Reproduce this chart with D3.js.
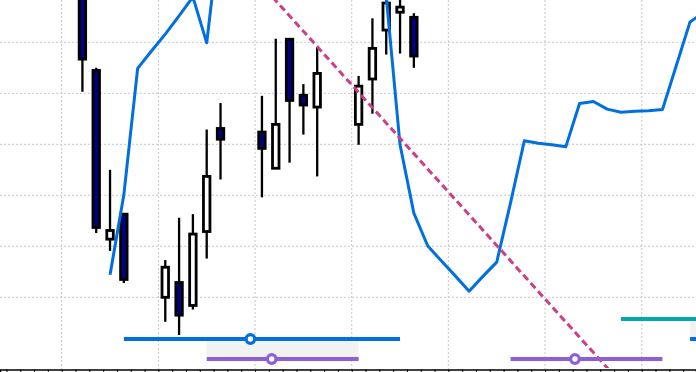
<!DOCTYPE html>
<html>
<head>
<meta charset="utf-8">
<script src="https://cdn.jsdelivr.net/npm/d3@7"></script>
<style>
  html, body { margin: 0; padding: 0; background: #fff; }
  svg { display: block; }
</style>
</head>
<body>
<svg id="chart" width="696" height="372"></svg>
<script>
// daily candles (weekdays only)
var candleDates = ["2024-01-09","2024-01-10","2024-01-11","2024-01-12",
  "2024-01-15","2024-01-16","2024-01-17","2024-01-18","2024-01-19",
  "2024-01-22","2024-01-23","2024-01-24","2024-01-25","2024-01-26",
  "2024-01-29","2024-01-30","2024-01-31","2024-02-01","2024-02-02"];
var opens  = [162.0,144.5,111.4,116.3,100.0,102.9, 98.4,112.9,133.1,132.4,125.3,150.6,139.6,137.3,133.9,142.8,152.4,155.9,154.9];
var highs  = [163.0,145.0,125.0,116.4,107.3,115.6,116.3,132.9,138.1,139.5,150.7,150.6,141.8,149.1,143.4,154.7,159.5,160.0,155.7];
var lows   = [140.3,112.6,109.1,102.8, 95.2, 92.6, 97.6,107.6,123.1,119.6,125.3,126.4,131.9,123.7,129.9,136.0,147.6,147.8,145.0];
var closes = [146.7,113.7,113.1,103.5,105.9, 96.5,112.4,123.7,131.0,129.2,133.9,138.6,137.7,143.9,141.4,148.8,157.7,156.9,147.3];

// daily line, starting 2024-01-11
var lineStart = "2024-01-11";
var lineValues = [104.4,120.1,144.9,148.3,151.6,155.2,158.9,149.9,172.9,177.5,
  180.2,178.8,182.1,184.0,181.3,183.6,185.9,184.7,187.2,186.4,
  159.0,129.9,116.5,110.1,107.1,104.2,101.2,104.1,106.9,118.5,
  130.7,130.2,129.9,129.5,138.0,138.4,136.9,136.3,136.5,136.6,
  136.8,145.4,154.0,155.9];

// dashed trend line anchors
var trendDates = ["2024-01-23T11:00","2024-02-16T11:00"];
var trendValues = [158.3, 86.3];

// range bars in the lower lanes
var lanes = ["teal","blue","purple"];
var segStart  = ["2024-01-12T12:00","2024-01-18T12:00","2024-02-09T12:00","2024-02-17T12:00","2024-02-22T12:00"];
var segEnd    = ["2024-02-01T12:00","2024-01-29T12:00","2024-02-20T12:00","2024-03-01T12:00","2024-03-01T12:00"];
var segLane   = ["blue","purple","purple","teal","blue"];
var segMarker = ["2024-01-21T16:00","2024-01-23T05:00","2024-02-14T04:00",null,null];
var shadeStart = ["2024-01-18T12:00","2024-02-22T12:00"];
var shadeEnd   = ["2024-01-29T12:00","2024-03-01T12:00"];
var shadeLanes = [["blue","purple"],["teal","blue"]];

var yGrid = [100,110,120,130,140,150];

var W = 696, H = 372, axisY = 369.5;
var DAY = 86400000;
var parse = function (s) { return new Date(s + (s.length > 10 ? ":00Z" : "T00:00:00Z")); };
var base = parse("2024-01-08");
var dayW = 13.81, gx0 = 61.7;

var x = d3.scaleUtc()
  .domain([new Date(+base - gx0 / dayW * DAY), new Date(+base + (W - gx0) / dayW * DAY)])
  .range([0, W]);
var y = d3.scaleLinear().domain([100, 150]).range([297.3, 42.3]);
var laneY = d3.scalePoint().domain(lanes).range([319, 359]);
var laneColor = d3.scaleOrdinal().domain(lanes).range(["#00aaaa","#0070e0","#8f5fd8"]);

var svg = d3.select("#chart");

svg.append("defs").append("clipPath").attr("id", "plot")
  .append("rect").attr("x", 0).attr("y", 0).attr("width", W).attr("height", 368);

// grid
var grid = svg.append("g");
grid.selectAll("line.h").data(yGrid).enter().append("line")
  .attr("x1", 0).attr("x2", W)
  .attr("y1", function (d) { return y(d); }).attr("y2", function (d) { return y(d); })
  .attr("stroke", "#c8c8c8").attr("stroke-dasharray", "2,2");
grid.selectAll("line.v").data(x.ticks(d3.utcMonday.every(1))).enter().append("line")
  .attr("x1", function (d) { return x(d); }).attr("x2", function (d) { return x(d); })
  .attr("y1", 0).attr("y2", axisY)
  .attr("stroke", "#c8c8c8").attr("stroke-dasharray", "2,2");

var plot = svg.append("g").attr("clip-path", "url(#plot)");

// shaded spans
plot.selectAll("rect.shade").data(shadeStart).enter().append("rect")
  .attr("x", function (d) { return x(parse(d)); })
  .attr("width", function (d, i) { return x(parse(shadeEnd[i])) - x(parse(d)); })
  .attr("y", function (d, i) { return laneY(shadeLanes[i][0]); })
  .attr("height", function (d, i) { return laneY(shadeLanes[i][1]) - laneY(shadeLanes[i][0]); })
  .attr("fill", "#f2f2f2");

// candles
var candles = candleDates.map(function (d, i) {
  return { t: new Date(+parse(d) + DAY / 2), o: opens[i], h: highs[i], l: lows[i], c: closes[i] };
});
var bw = dayW * 0.47;
var cg = plot.selectAll("g.candle").data(candles).enter().append("g");
cg.append("line")
  .attr("x1", function (d) { return x(d.t); }).attr("x2", function (d) { return x(d.t); })
  .attr("y1", function (d) { return y(d.h); }).attr("y2", function (d) { return y(d.l); })
  .attr("stroke", "#000").attr("stroke-width", 2.3);
cg.append("rect")
  .attr("x", function (d) { return x(d.t) - bw / 2; })
  .attr("width", bw)
  .attr("y", function (d) { return y(Math.max(d.o, d.c)); })
  .attr("height", function (d) { return Math.abs(y(d.o) - y(d.c)); })
  .attr("fill", function (d) { return d.c < d.o ? "#000080" : "#fff"; })
  .attr("stroke", "#000").attr("stroke-width", 2.8);

// blue line
var t0 = parse(lineStart);
var linePts = lineValues.map(function (v, i) { return { t: new Date(+t0 + i * DAY + DAY / 2), v: v }; });
plot.append("path").datum(linePts)
  .attr("d", d3.line().x(function (d) { return x(d.t); }).y(function (d) { return y(d.v); }))
  .attr("fill", "none").attr("stroke", "#0070e0").attr("stroke-width", 3)
  .attr("stroke-linejoin", "round");

// trend line, extended across the view
var ta = parse(trendDates[0]), tb = parse(trendDates[1]);
var slope = (trendValues[1] - trendValues[0]) / (tb - ta);
var tL = x.domain()[0], tR = x.domain()[1];
plot.append("line")
  .attr("x1", x(tL)).attr("y1", y(trendValues[0] + slope * (tL - ta)))
  .attr("x2", x(tR)).attr("y2", y(trendValues[0] + slope * (tR - ta)))
  .attr("stroke", "#cc3f87").attr("stroke-width", 3).attr("stroke-dasharray", "7,4");

// range bars
plot.selectAll("line.seg").data(segStart).enter().append("line")
  .attr("x1", function (d) { return x(parse(d)); })
  .attr("x2", function (d, i) { return x(parse(segEnd[i])); })
  .attr("y1", function (d, i) { return laneY(segLane[i]); })
  .attr("y2", function (d, i) { return laneY(segLane[i]); })
  .attr("stroke", function (d, i) { return laneColor(segLane[i]); })
  .attr("stroke-width", 3.8);
plot.selectAll("circle.mk").data(segMarker.map(function (m, i) { return { m: m, lane: segLane[i] }; })
    .filter(function (d) { return d.m; }))
  .enter().append("circle")
  .attr("cx", function (d) { return x(parse(d.m)); })
  .attr("cy", function (d) { return laneY(d.lane); })
  .attr("r", 4.3)
  .attr("fill", "#fff")
  .attr("stroke", function (d) { return laneColor(d.lane); })
  .attr("stroke-width", 3.2);

// time axis, daily ticks
var axis = svg.append("g").attr("transform", "translate(0," + axisY + ")")
  .call(d3.axisBottom(x).ticks(d3.utcDay.every(1)).tickSize(4).tickFormat(""));
axis.select(".domain").attr("stroke", "#000").attr("stroke-width", 1.5);
axis.selectAll(".tick line").attr("stroke", "#000");
</script>
</body>
</html>
